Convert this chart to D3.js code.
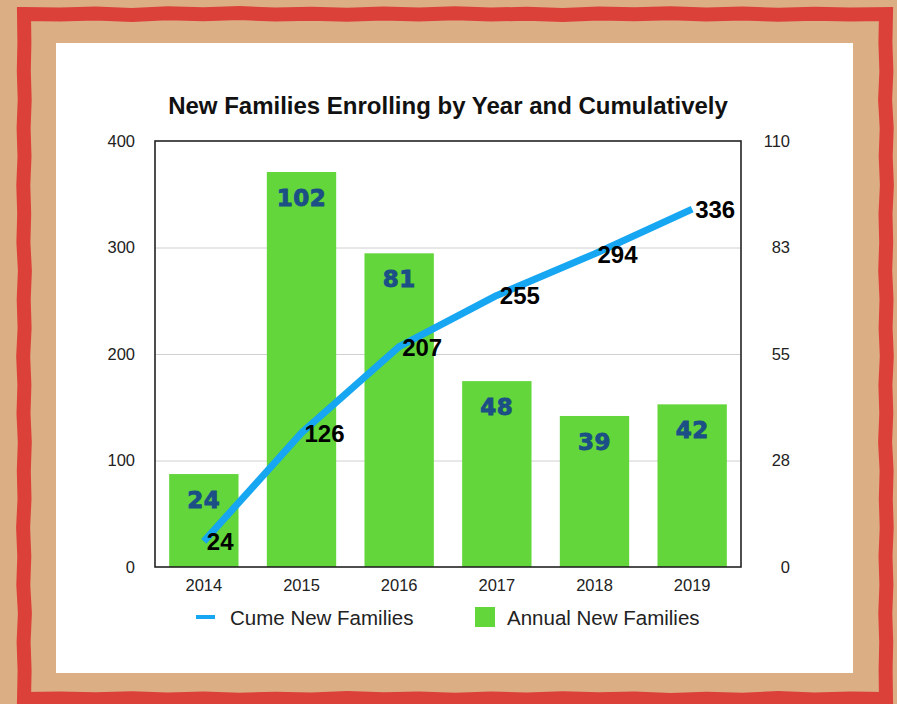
<!DOCTYPE html>
<html>
<head>
<meta charset="utf-8">
<script src="https://cdn.jsdelivr.net/npm/d3@7"></script>
<style>
  html, body { margin: 0; padding: 0; background: #DCAE84; }
  svg { display: block; }
</style>
</head>
<body>
<svg id="chart" width="897" height="704"></svg>
<script>
// Enrollment data
const years = ["2014", "2015", "2016", "2017", "2018", "2019"];
const annualNew = [24, 102, 81, 48, 39, 42];
const cumeNew = [24, 126, 207, 255, 294, 336];
const leftTicks = [0, 100, 200, 300, 400];
const rightTicks = [0, 27.5, 55, 82.5, 110];

const svg = d3.select("#chart");
const W = 897, H = 704;

// Tan background
svg.append("rect").attr("width", W).attr("height", H).attr("fill", "#DCAE84");

// Hand-drawn red frame: corners plus small fixed jitter along each side
const wob = [0, 0.6, -0.4, 0.9, -0.7, 0.3, -0.9, 0.5, -0.2, 0.8, -0.5, 0.4, -0.8,
             0.6, -0.3, 0.9, -0.6, 0.2, -0.7, 0.5, -0.4, 0.7, -0.2, 0.4, 0];
function side(x0, y0, x1, y1) {
  const n = wob.length - 1;
  const dx = x1 - x0, dy = y1 - y0, len = Math.hypot(dx, dy);
  const nx = -dy / len, ny = dx / len;
  return wob.map((w, i) => [x0 + dx * i / n + nx * w, y0 + dy * i / n + ny * w]);
}
const L = 24, R = 886, T = 14, B = 699;
const framePts = [].concat(
  side(L, T, R, T), side(R, T, R, B).slice(1),
  side(R, B, L, B).slice(1), side(L, B, L, T).slice(1)
);
svg.append("path")
  .attr("d", d3.line()(framePts) + "Z")
  .attr("fill", "none")
  .attr("stroke", "#DC4139")
  .attr("stroke-width", 14)
  .attr("stroke-linejoin", "miter");

// White panel
svg.append("rect").attr("x", 56).attr("y", 43).attr("width", 797).attr("height", 630).attr("fill", "#ffffff");

// Plot area
const px0 = 155, px1 = 741, py0 = 141, py1 = 567;

const x = d3.scaleBand().domain(years).range([px0, px1]).paddingInner(0.29).paddingOuter(0.145);
const yL = d3.scaleLinear().domain([0, 400]).range([py1, py0]);
const yR = d3.scaleLinear().domain([0, 110]).range([py1, py0]);

const font = "'Liberation Sans', Arial, Helvetica, sans-serif";

// Title
svg.append("text")
  .attr("x", 448).attr("y", 114)
  .attr("text-anchor", "middle")
  .attr("font-family", font).attr("font-weight", "bold").attr("font-size", 24)
  .attr("fill", "#111")
  .text("New Families Enrolling by Year and Cumulatively");

// Gridlines
svg.append("g").selectAll("line")
  .data(leftTicks.filter(t => t > 0 && t < 400))
  .join("line")
  .attr("x1", px0).attr("x2", px1)
  .attr("y1", d => yL(d) + 0.5).attr("y2", d => yL(d) + 0.5)
  .attr("stroke", "#d0d0d0").attr("stroke-width", 1);

// Left axis (cumulative)
const leftAxis = svg.append("g").attr("transform", `translate(${px0},0)`)
  .call(d3.axisLeft(yL).tickValues(leftTicks).tickSize(0).tickPadding(20));
// Right axis (annual)
const rightAxis = svg.append("g").attr("transform", `translate(${px1},0)`)
  .call(d3.axisRight(yR).tickValues(rightTicks).tickSize(0).tickFormat(d => Math.round(d)).tickPadding(22));
// Bottom axis
const bottomAxis = svg.append("g").attr("transform", `translate(0,${py1})`)
  .call(d3.axisBottom(x).tickSize(0).tickPadding(12));

[leftAxis, rightAxis, bottomAxis].forEach(g => {
  g.select(".domain").remove();
  g.selectAll("text").attr("font-family", font).attr("font-size", 16.5).attr("fill", "#222");
});
rightAxis.selectAll("text").attr("text-anchor", "end").attr("dx", "27");

// Bars
svg.append("g").selectAll("rect")
  .data(annualNew)
  .join("rect")
  .attr("x", (d, i) => x(years[i]))
  .attr("width", x.bandwidth())
  .attr("y", d => yR(d))
  .attr("height", d => py1 - yR(d))
  .attr("fill", "#62D63A");

// Bar value labels
svg.append("g").selectAll("text")
  .data(annualNew)
  .join("text")
  .attr("x", (d, i) => x(years[i]) + x.bandwidth() / 2)
  .attr("y", d => yR(d) + 34)
  .attr("text-anchor", "middle")
  .attr("font-family", "'DejaVu Sans', Verdana, sans-serif")
  .attr("font-weight", "bold").attr("font-size", 23)
  .attr("letter-spacing", 0.5)
  .attr("fill", "#1B4F86")
  .attr("stroke", "#1B4F86").attr("stroke-width", 0.9)
  .text(d => d);

// Plot frame
svg.append("rect")
  .attr("x", px0).attr("y", py0).attr("width", px1 - px0).attr("height", py1 - py0)
  .attr("fill", "none").attr("stroke", "#222").attr("stroke-width", 1.6);

// Cumulative line
const cx = (i) => x(years[i]) + x.bandwidth() / 2;
svg.append("path")
  .datum(cumeNew)
  .attr("d", d3.line().x((d, i) => cx(i)).y(d => yL(d)))
  .attr("fill", "none")
  .attr("stroke", "#16A6F2")
  .attr("stroke-width", 7)
  .attr("stroke-linejoin", "round");

// Cumulative value labels
svg.append("g").selectAll("text")
  .data(cumeNew)
  .join("text")
  .attr("x", (d, i) => cx(i) + 3)
  .attr("y", d => yL(d) + 9)
  .attr("font-family", font).attr("font-weight", "bold").attr("font-size", 24)
  .attr("fill", "#000")
  .text(d => d);

// Legend
const lg = svg.append("g");
lg.append("line").attr("x1", 196).attr("x2", 215).attr("y1", 617).attr("y2", 617)
  .attr("stroke", "#16A6F2").attr("stroke-width", 4);
lg.append("text").attr("x", 230).attr("y", 624.5)
  .attr("font-family", font).attr("font-size", 20.5).attr("fill", "#222")
  .text("Cume New Families");
lg.append("rect").attr("x", 475).attr("y", 607).attr("width", 20).attr("height", 20).attr("fill", "#62D63A");
lg.append("text").attr("x", 507).attr("y", 624.5)
  .attr("font-family", font).attr("font-size", 20.5).attr("fill", "#222")
  .text("Annual New Families");
</script>
</body>
</html>
